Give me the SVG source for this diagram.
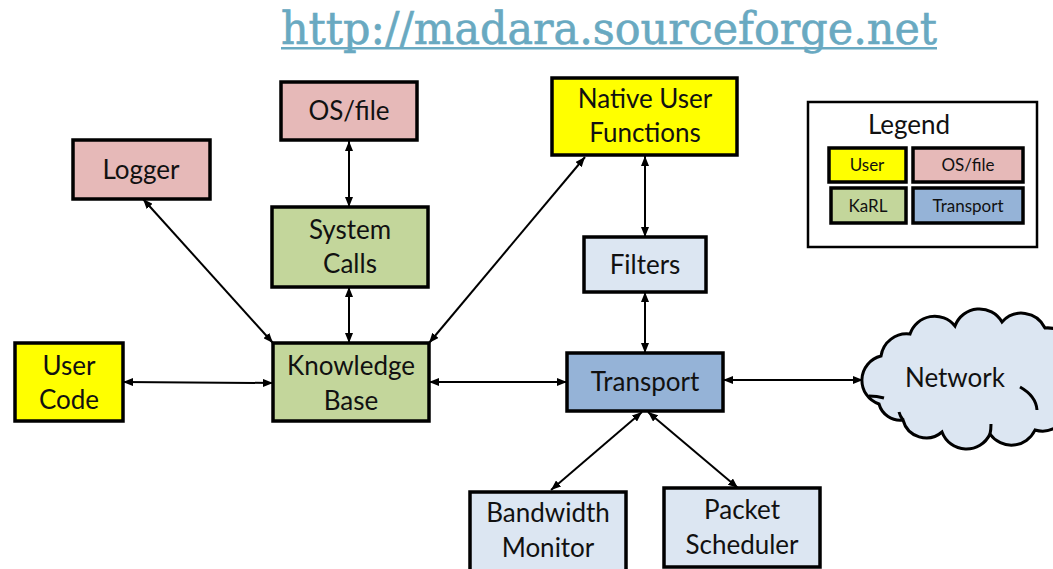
<svg xmlns="http://www.w3.org/2000/svg" width="1053" height="569" viewBox="0 0 1053 569">
  <style>
    .box { stroke: #000; stroke-width: 3.5; }
    .user { fill: #ffff00; }
    .os { fill: #e6b9b8; }
    .karl { fill: #c3d69b; }
    .trans { fill: #95b3d7; }
    .light { fill: #dce6f2; }
    .lbl { font-family: Lato, "Liberation Sans", sans-serif; font-size: 26px; fill: #111; text-anchor: middle; }
    .small { font-size: 17px; }
    .conn line { stroke: #000; stroke-width: 2; marker-start: url(#ah); marker-end: url(#ah); }
  </style>
  <defs>
    <marker id="ah" viewBox="0 0 10 8" refX="10" refY="4" markerWidth="10" markerHeight="8" markerUnits="userSpaceOnUse" orient="auto-start-reverse">
      <path d="M0,0 L10,4 L0,8 Z" fill="#000"/>
    </marker>
  </defs>

  <rect width="1053" height="569" fill="#fff"/>

  <!-- project link -->
  <g id="title">
    <text x="281" y="44" font-family="DejaVu Serif, Liberation Serif, serif" font-size="44" fill="#69a9c1" stroke="#69a9c1" stroke-width="0.6" textLength="656" lengthAdjust="spacingAndGlyphs">http://madara.sourceforge.net</text>
    <rect x="281" y="47" width="656" height="2.5" fill="#69a9c1"/>
  </g>

  <g id="os-file">
    <rect class="box os" x="281" y="82" width="136" height="58"/>
    <text class="lbl" x="349" y="120">OS/file</text>
  </g>
  <g id="logger">
    <rect class="box os" x="73" y="140" width="137" height="59"/>
    <text class="lbl" x="141" y="179">Logger</text>
  </g>
  <g id="system-calls">
    <rect class="box karl" x="272" y="207" width="156" height="80"/>
    <text class="lbl" x="350" y="239">System</text>
    <text class="lbl" x="350" y="273">Calls</text>
  </g>
  <g id="knowledge-base">
    <rect class="box karl" x="273" y="343" width="156" height="78"/>
    <text class="lbl" x="351" y="375">Knowledge</text>
    <text class="lbl" x="351" y="410">Base</text>
  </g>
  <g id="user-code">
    <rect class="box user" x="15" y="343" width="108" height="78"/>
    <text class="lbl" x="69" y="375">User</text>
    <text class="lbl" x="69" y="409">Code</text>
  </g>
  <g id="native-user-functions">
    <rect class="box user" x="552" y="78" width="185" height="77"/>
    <text class="lbl" x="645" y="108">Native User</text>
    <text class="lbl" x="645" y="142">Functions</text>
  </g>
  <g id="filters">
    <rect class="box light" x="584" y="237" width="122" height="55"/>
    <text class="lbl" x="645" y="274">Filters</text>
  </g>
  <g id="transport">
    <rect class="box trans" x="567" y="353" width="156" height="58"/>
    <text class="lbl" x="645" y="391">Transport</text>
  </g>
  <g id="bandwidth-monitor">
    <rect class="box light" x="470" y="492" width="156" height="80"/>
    <text class="lbl" x="548" y="522">Bandwidth</text>
    <text class="lbl" x="548" y="557">Monitor</text>
  </g>
  <g id="packet-scheduler">
    <rect class="box light" x="664" y="488" width="156" height="79"/>
    <text class="lbl" x="742" y="519">Packet</text>
    <text class="lbl" x="742" y="554">Scheduler</text>
  </g>

  <g id="network">
    <path fill="#dce6f2" stroke="#000" stroke-width="3" d="M879,404 A25,25 0 0 1 881,356 A26,26 0 0 1 910,334 A26,26 0 0 1 955,326 A26,26 0 0 1 1002,322 A26,26 0 0 1 1045,328 A26,26 0 0 1 1072,362 A28,28 0 0 1 1068,410 A26,26 0 0 1 1035,430 A26,26 0 0 1 990,434 A26,26 0 0 1 942,432 A24,24 0 0 1 903,420 A22,22 0 0 1 879,404 Z"/>
    <g fill="none" stroke="#000" stroke-width="3">
      <path d="M869,396 Q877,396 884,398"/>
      <path d="M1020,387 Q1036,396 1037,410"/>
      <path d="M903,420 Q900,416 899,412"/>
      <path d="M990,434 Q991,430 991,424"/>
    </g>
    <text class="lbl" x="955" y="387">Network</text>
  </g>

  <g id="legend">
    <rect x="808" y="102" width="229" height="145" fill="#fff" stroke="#000" stroke-width="2.5"/>
    <text class="lbl" x="909" y="134">Legend</text>
    <rect class="box user" x="829" y="148" width="77" height="34"/>
    <text class="lbl small" x="867" y="171">User</text>
    <rect class="box os" x="913" y="148" width="110" height="34"/>
    <text class="lbl small" x="968" y="171">OS/file</text>
    <rect class="box karl" x="831" y="188" width="75" height="35"/>
    <text class="lbl small" x="868" y="212">KaRL</text>
    <rect class="box trans" x="913" y="188" width="110" height="35"/>
    <text class="lbl small" x="968" y="212">Transport</text>
  </g>

  <!-- connectors, drawn last so arrowheads sit on top of shape outlines -->
  <g id="connectors" class="conn">
    <line x1="123" y1="382" x2="273" y2="383"/>
    <line x1="143" y1="199" x2="273" y2="343"/>
    <line x1="349" y1="141" x2="349" y2="207"/>
    <line x1="349" y1="287" x2="349" y2="343"/>
    <line x1="429" y1="343" x2="585" y2="157"/>
    <line x1="429" y1="382" x2="567" y2="382"/>
    <line x1="645" y1="156" x2="645" y2="237"/>
    <line x1="645" y1="292" x2="645" y2="353"/>
    <line x1="723" y1="380" x2="863" y2="380"/>
    <line x1="642" y1="412" x2="551" y2="490"/>
    <line x1="648" y1="412" x2="738" y2="488"/>
  </g>
</svg>
